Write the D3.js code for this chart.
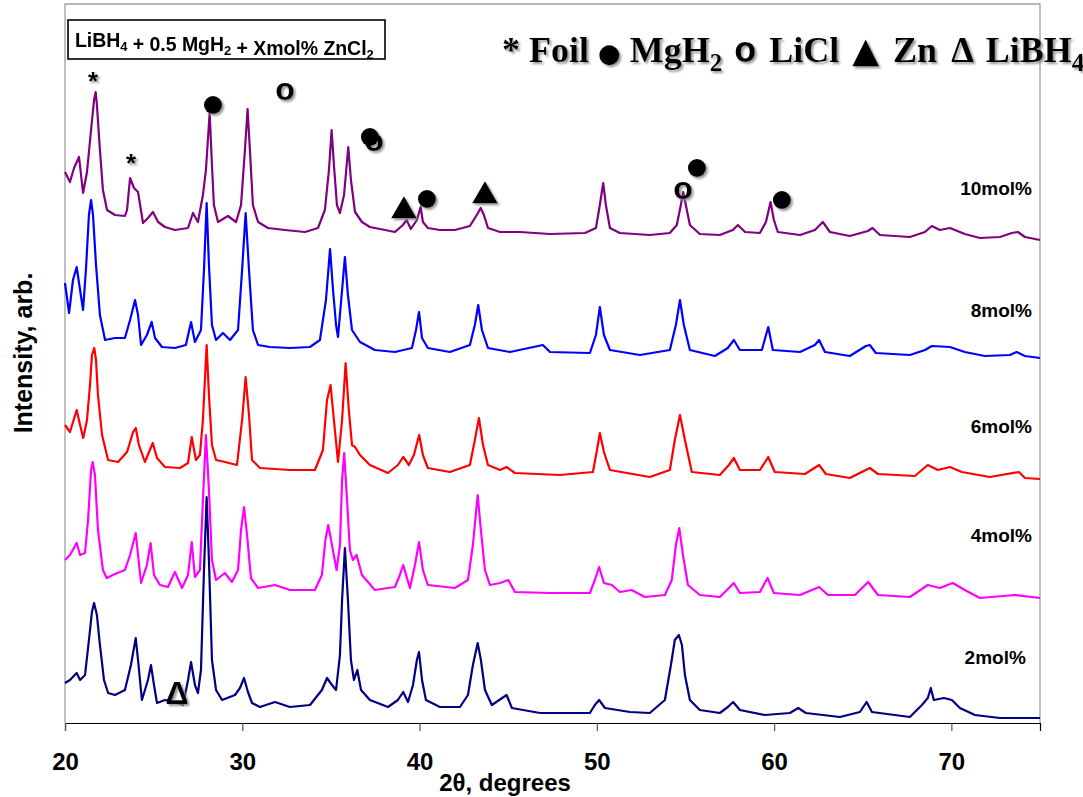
<!DOCTYPE html>
<html>
<head>
<meta charset="utf-8">
<script src="https://cdn.jsdelivr.net/npm/d3@7"></script>
<style>
  body { margin: 0; background: #fff; }
  svg { display: block; }
</style>
</head>
<body>
<svg id="chart" width="1083" height="797"></svg>
<script>
// XRD patterns of LiBH4 + 0.5 MgH2 + X mol% ZnCl2, stacked with a vertical offset.
// Each scan: [2θ (degrees), intensity (arb.)] read along the pattern.
const scan2mol = [
  [20.00,40],[20.28,43],[20.66,50],[20.85,43],[21.13,48],[21.35,83],[21.52,111],[21.64,120],[21.80,108],
  [21.97,78],[22.20,43],[22.43,30],[22.82,28],[23.38,33],[23.72,58],[23.99,85],[24.12,63],[24.34,23],
  [24.68,43],[24.85,58],[25.02,38],[25.19,20],[25.64,23],[26.20,21],[26.66,18],[26.94,43],[27.11,61],
  [27.33,38],[27.50,30],[27.67,53],[27.84,153],[27.99,226],[28.12,163],[28.29,63],[28.52,33],[28.86,23],
  [29.59,28],[29.87,35],[30.10,45],[30.32,31],[30.55,20],[31.00,16],[31.84,21],[32.69,16],[33.82,18],
  [34.49,33],[34.78,45],[35.06,38],[35.29,33],[35.51,68],[35.63,123],[35.79,175],[35.96,123],[36.13,63],
  [36.30,43],[36.49,53],[36.70,33],[37.20,23],[38.22,16],[38.78,23],[39.08,31],[39.35,21],[39.63,38],
  [39.85,63],[39.97,71],[40.14,43],[40.36,23],[41.15,16],[42.28,16],[42.73,28],[43.01,58],[43.28,80],
  [43.46,63],[43.69,33],[44.08,18],[44.91,28],[45.21,15],[46.79,10],[49.61,10],[49.89,18],[50.13,23],
  [50.46,15],[51.87,11],[52.99,10],[53.84,23],[54.18,58],[54.40,83],[54.63,88],[54.80,78],[54.97,48],
  [55.25,23],[55.81,13],[56.94,10],[57.39,16],[57.69,21],[58.07,13],[59.48,8],[60.89,10],[61.36,15],
  [61.79,10],[63.71,6],[64.84,11],[65.22,21],[65.52,11],[67.66,6],[68.34,18],[68.67,25],[68.84,35],
  [69.01,23],[69.58,25],[70.03,23],[70.48,15],[71.33,8],[72.74,5],[75.00,5]
];

const scan4mol = [
  [20.00,43],[20.28,48],[20.66,60],[20.85,48],[21.13,50],[21.30,83],[21.47,133],[21.56,141],[21.69,128],
  [21.86,73],[22.14,33],[22.35,25],[22.82,29],[23.38,33],[23.67,48],[23.99,70],[24.12,48],[24.29,20],
  [24.62,38],[24.83,60],[25.02,28],[25.36,18],[25.81,16],[26.20,31],[26.60,15],[26.94,28],[27.15,61],
  [27.33,26],[27.61,33],[27.78,103],[27.95,168],[28.12,113],[28.29,43],[28.52,23],[29.02,30],[29.42,21],
  [29.76,33],[29.93,73],[30.10,96],[30.27,68],[30.49,25],[30.89,15],[31.84,18],[32.69,13],[34.10,13],
  [34.49,28],[34.69,63],[34.85,78],[35.06,58],[35.32,33],[35.51,58],[35.63,123],[35.75,150],[35.91,103],
  [36.07,53],[36.24,43],[36.45,48],[36.75,28],[37.48,13],[38.61,16],[38.89,28],[39.08,38],[39.29,25],
  [39.46,15],[39.74,38],[39.97,61],[40.19,33],[40.47,18],[41.99,15],[42.73,23],[43.01,58],[43.28,108],
  [43.46,73],[43.69,33],[43.97,18],[44.54,20],[45.01,23],[45.38,11],[47.36,10],[49.61,10],[49.89,23],
  [50.13,36],[50.40,20],[50.85,18],[51.30,11],[51.96,13],[52.71,6],[53.84,8],[54.23,23],[54.46,58],
  [54.65,75],[54.86,48],[55.14,18],[55.81,8],[56.94,6],[57.45,15],[57.73,20],[58.07,10],[59.20,11],
  [59.63,25],[59.99,10],[61.46,8],[62.54,16],[63.04,8],[64.56,8],[65.31,21],[65.86,8],[67.66,6],
  [68.67,18],[69.35,15],[70.08,20],[70.76,13],[71.61,5],[73.58,8],[75.00,5]
];

const scan6mol = [
  [20.00,58],[20.28,51],[20.66,73],[20.85,58],[21.03,45],[21.24,63],[21.41,98],[21.52,128],[21.65,135],
  [21.75,123],[21.86,88],[22.09,48],[22.43,23],[22.99,21],[23.50,31],[23.84,51],[23.99,55],[24.17,38],
  [24.51,21],[24.95,40],[25.19,25],[25.64,16],[26.49,15],[26.94,20],[27.15,46],[27.39,23],[27.61,28],
  [27.78,63],[27.99,138],[28.12,88],[28.29,38],[28.52,23],[29.02,21],[29.70,18],[29.99,63],[30.19,106],
  [30.38,68],[30.55,23],[31.00,15],[32.69,13],[34.10,13],[34.55,33],[34.78,83],[34.98,98],[35.17,63],
  [35.40,21],[35.63,63],[35.83,120],[36.01,73],[36.19,38],[36.36,36],[36.64,28],[37.20,18],[38.22,10],
  [38.78,18],[39.08,26],[39.40,18],[39.68,28],[39.98,48],[40.19,28],[40.47,15],[41.71,11],[42.84,18],
  [43.12,43],[43.35,65],[43.58,38],[43.86,18],[44.54,13],[44.91,16],[45.38,10],[47.92,8],[49.78,11],
  [50.01,33],[50.17,50],[50.40,31],[50.74,13],[52.99,6],[54.12,13],[54.40,43],[54.69,68],[54.97,43],
  [55.36,11],[56.94,8],[57.45,18],[57.73,25],[58.07,13],[59.20,13],[59.67,26],[60.04,11],[61.74,9],
  [62.54,18],[62.92,9],[64.27,5],[65.40,15],[65.86,9],[67.94,7],[68.67,18],[69.24,13],[69.92,16],
  [70.59,11],[72.17,6],[73.81,11],[74.15,5],[75.00,4]
];

const scan8mol = [
  [20.00,80],[20.23,50],[20.45,83],[20.66,96],[20.85,73],[21.02,53],[21.18,93],[21.35,148],[21.47,163],
  [21.58,148],[21.75,98],[21.97,48],[22.26,23],[22.82,25],[23.38,25],[23.67,43],[23.95,63],[24.12,48],
  [24.29,18],[24.62,28],[24.89,41],[25.08,25],[25.47,16],[26.20,15],[26.82,18],[27.11,41],[27.33,21],
  [27.67,33],[27.84,93],[27.99,160],[28.12,98],[28.29,38],[28.52,23],[28.91,30],[29.31,23],[29.76,33],
  [29.99,93],[30.19,150],[30.38,93],[30.60,33],[30.89,18],[31.56,16],[32.69,15],[33.82,16],[34.38,23],
  [34.72,63],[34.95,114],[35.12,73],[35.29,38],[35.40,26],[35.63,73],[35.79,106],[35.96,68],[36.19,33],
  [36.64,21],[37.48,13],[38.61,11],[39.57,15],[39.80,33],[39.97,51],[40.14,25],[40.47,15],[41.71,11],
  [42.84,18],[43.12,38],[43.31,58],[43.52,33],[43.86,15],[45.10,11],[46.96,18],[47.36,11],[49.61,10],
  [49.95,28],[50.17,56],[50.40,28],[50.74,13],[52.43,8],[54.12,13],[54.46,38],[54.69,63],[54.91,38],
  [55.25,13],[56.66,7],[57.39,15],[57.73,23],[58.07,13],[59.31,13],[59.67,36],[59.93,13],[61.46,11],
  [62.30,18],[62.54,23],[62.87,11],[64.27,7],[65.18,17],[65.40,18],[65.74,10],[67.66,8],[68.51,13],
  [68.90,17],[69.92,16],[70.76,11],[71.89,7],[73.30,8],[73.68,11],[74.15,7],[75.00,5]
];

const scan10mol = [
  [20.00,71],[20.28,61],[20.51,75],[20.79,86],[21.02,50],[21.24,71],[21.47,113],[21.64,143],[21.73,151],
  [21.80,138],[21.97,93],[22.14,53],[22.37,33],[22.82,28],[23.38,27],[23.50,33],[23.67,65],[23.89,55],
  [24.12,51],[24.40,20],[24.68,25],[24.96,31],[25.25,21],[25.64,16],[26.20,13],[26.94,15],[27.22,30],
  [27.50,21],[27.78,48],[27.95,73],[28.16,130],[28.29,78],[28.40,38],[28.63,21],[29.19,27],[29.65,21],
  [29.93,38],[30.15,93],[30.30,134],[30.43,93],[30.60,38],[30.89,21],[31.45,15],[32.41,13],[33.54,11],
  [34.27,15],[34.66,33],[34.89,73],[35.04,113],[35.17,78],[35.34,38],[35.51,30],[35.74,48],[35.98,96],
  [36.13,63],[36.36,31],[36.75,21],[37.20,16],[38.05,13],[38.61,11],[39.06,18],[39.27,23],[39.51,14],
  [39.85,23],[40.06,36],[40.19,21],[40.47,15],[41.15,13],[41.99,13],[42.84,17],[43.23,28],[43.45,35],
  [43.63,28],[43.86,15],[44.54,11],[45.66,11],[47.36,9],[49.33,10],[49.95,15],[50.17,38],[50.36,60],
  [50.51,38],[50.74,15],[51.30,10],[52.99,8],[54.12,10],[54.51,18],[54.74,38],[54.87,51],[55.02,38],
  [55.25,18],[55.81,9],[56.94,8],[57.67,13],[57.96,18],[58.36,11],[59.20,10],[59.54,21],[59.80,41],
  [59.99,23],[60.21,11],[61.46,8],[62.30,13],[62.75,21],[63.15,11],[64.27,7],[65.29,12],[65.55,15],
  [65.97,8],[67.66,6],[68.51,11],[68.90,17],[69.35,13],[69.92,15],[70.76,9],[71.61,5],[72.74,6],
  [73.41,10],[73.75,11],[74.15,6],[75.00,3]
];

const sampleNames   = ["2mol%", "4mol%", "6mol%", "8mol%", "10mol%"];
const sampleScans   = [scan2mol, scan4mol, scan6mol, scan8mol, scan10mol];
const stackOffsets  = [0, 120, 240, 360, 480];
const sampleColors  = ["#000080", "#FF00FF", "#FF0000", "#0000FF", "#800080"];
const nameAnchor    = [[74.20, 59], [74.55, 181], [74.55, 290], [74.55, 406], [74.55, 528]];

const xTicks  = [20, 30, 40, 50, 60, 70];
const xDomain = [20, 75];
const yDomain = [0, 720];

// Phase markers placed above the reflections: [2θ, stacked intensity, symbol]
const phaseMarks = [
  [21.58, 648, "*"], [23.72, 566, "*"],
  [28.35, 618, "●"], [32.41, 632, "o"],
  [37.20, 586, "●"], [37.43, 581, "o"],
  [39.12, 514, "▲"], [40.42, 524, "●"], [43.69, 529, "▲"],
  [55.65, 555, "●"], [54.86, 533, "o"],
  [60.44, 523, "●"],
  [26.32, 31, "Δ"]
];

const svg = d3.select("#chart");
const margin = { left: 65, right: 43, top: 3, bottom: 74 };
const W = 1083, H = 797;

const x = d3.scaleLinear().domain(xDomain).range([margin.left, W - margin.right]);
const y = d3.scaleLinear().domain(yDomain).range([H - margin.bottom, margin.top]);

const defs = svg.append("defs");
const shadow = defs.append("filter").attr("id", "shade")
  .attr("x", "-30%").attr("y", "-30%").attr("width", "160%").attr("height", "160%");
shadow.append("feDropShadow").attr("dx", 2).attr("dy", 2).attr("stdDeviation", 0.9)
  .attr("flood-color", "#8a8a8a").attr("flood-opacity", 0.9);

// plot frame: grey left, top and right edges
svg.append("path")
  .attr("d", `M${x(20)},${y(0)} V${y(720) + 1} H${x(75)} V${y(0)}`)
  .attr("fill", "none").attr("stroke", "#a0a0a0").attr("stroke-width", 1.3);

// x axis
const xAxis = d3.axisBottom(x).tickValues(xTicks).tickSize(8).tickFormat(d3.format("d"));
const gx = svg.append("g").attr("transform", `translate(0,${y(0)})`).call(xAxis);
gx.select(".domain").attr("stroke", "#000").attr("stroke-width", 1.2);
gx.selectAll(".tick line").attr("stroke", "#555").attr("stroke-width", 1.2);
gx.selectAll(".tick text")
  .attr("y", 47).attr("dy", 0)
  .attr("font-family", "Liberation Sans, Arial, sans-serif")
  .attr("font-weight", "bold").attr("font-size", 24).attr("fill", "#000");

svg.append("text")
  .attr("x", 505).attr("y", 791).attr("text-anchor", "middle")
  .attr("font-family", "Liberation Sans, Arial, sans-serif")
  .attr("font-weight", "bold").attr("font-size", 24)
  .text("2θ, degrees");

svg.append("text")
  .attr("transform", "translate(32,353) rotate(-90)")
  .attr("text-anchor", "middle")
  .attr("font-family", "Liberation Sans, Arial, sans-serif")
  .attr("font-weight", "bold").attr("font-size", 25)
  .text("Intensity, arb.");

// diffraction patterns
const line = d3.line()
  .x(d => x(d[0]))
  .y(d => y(d[1]));

const scans = svg.append("g");
sampleScans.forEach((scan, i) => {
  const shifted = scan.map(d => [d[0], d[1] + stackOffsets[i]]);
  scans.append("path")
    .datum(shifted)
    .attr("fill", "none")
    .attr("stroke", sampleColors[i])
    .attr("stroke-width", 2.2)
    .attr("stroke-linejoin", "round")
    .attr("d", line);
});

// sample labels
svg.append("g").selectAll("text")
  .data(sampleNames)
  .join("text")
  .attr("x", (d, i) => x(nameAnchor[i][0]))
  .attr("y", (d, i) => y(nameAnchor[i][1]))
  .attr("text-anchor", "end")
  .attr("font-family", "Liberation Sans, Arial, sans-serif")
  .attr("font-weight", "bold").attr("font-size", 19)
  .text(d => d);

// phase markers
const marks = svg.append("g").attr("filter", "url(#shade)");
phaseMarks.forEach(([t, v, s]) => {
  const cx = x(t), cy = y(v);
  if (s === "●") {
    marks.append("circle").attr("cx", cx).attr("cy", cy).attr("r", 9).attr("fill", "#000");
  } else if (s === "▲") {
    marks.append("path")
      .attr("transform", `translate(${cx},${cy + 2})`)
      .attr("d", d3.symbol(d3.symbolTriangle, 280)())
      .attr("fill", "#000");
  } else {
    const size = s === "*" ? 26 : 32;
    const drop = s === "*" ? 15 : s === "o" ? 8.5 : 11.5;
    marks.append("text")
      .attr("x", cx).attr("y", cy + drop)
      .attr("text-anchor", "middle")
      .attr("font-family", "Liberation Sans, Arial, sans-serif")
      .attr("font-weight", "bold").attr("font-size", size)
      .text(s);
  }
});

// composition box
const box = svg.append("g");
box.append("rect")
  .attr("x", 68).attr("y", 20).attr("width", 317).attr("height", 39)
  .attr("fill", "#fff").attr("stroke", "#000").attr("stroke-width", 1.6);
const boxText = box.append("text")
  .attr("x", 75).attr("y", 47)
  .attr("font-family", "Liberation Sans, Arial, sans-serif")
  .attr("font-weight", "bold").attr("font-size", 19.5)
  .attr("letter-spacing", -0.05);
const sub = (parent, main, s, size) => {
  parent.append("tspan").text(main);
  parent.append("tspan").attr("dy", 4).attr("font-size", size).text(s);
  parent.append("tspan").attr("dy", -4).text("");
};
sub(boxText, "LiBH", "4", 13);
sub(boxText, " + 0.5 MgH", "2", 13);
sub(boxText, " + Xmol% ZnCl", "2", 13);

// phase key
const key = svg.append("text")
  .attr("x", 502).attr("y", 62)
  .attr("font-family", "Liberation Serif, Times New Roman, serif")
  .attr("font-weight", "bold").attr("font-size", 36)
  .attr("filter", "url(#shade)");
key.append("tspan").text("* Foil ");
key.append("tspan").attr("font-family", "DejaVu Sans").attr("font-size", 26).text("●");
key.append("tspan").text(" MgH");
key.append("tspan").attr("dy", 9).attr("font-size", 25).text("2");
key.append("tspan").attr("dy", -9).attr("word-spacing", 3).text(" ");
key.append("tspan").attr("font-family", "Liberation Sans, Arial, sans-serif").text("o");
key.append("tspan").attr("word-spacing", 4).text(" LiCl ");
key.append("tspan").attr("font-family", "DejaVu Sans").attr("font-size", 35).text("▲");
key.append("tspan").attr("word-spacing", 5).text(" Zn Δ LiBH");
key.append("tspan").attr("dy", 9).attr("font-size", 25).text("4");
</script>
</body>
</html>
